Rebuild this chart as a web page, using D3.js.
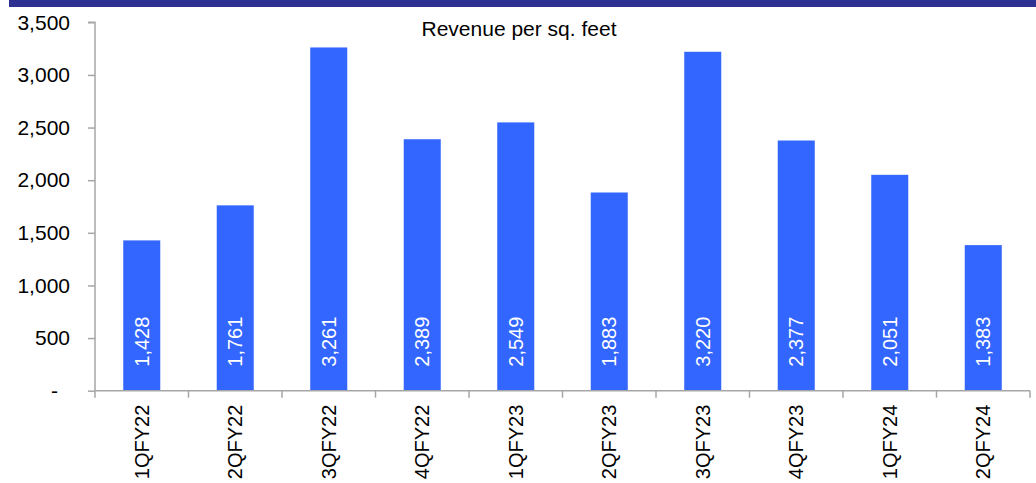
<!DOCTYPE html>
<html>
<head>
<meta charset="utf-8">
<script src="https://cdn.jsdelivr.net/npm/d3@7"></script>
<style>
  html, body { margin: 0; padding: 0; background: #fff; }
  svg { display: block; font-family: "Liberation Sans", Arial, Helvetica, sans-serif; }
</style>
</head>
<body>
<svg id="chart" width="1036" height="483"></svg>
<script>
const categories = ["1QFY22","2QFY22","3QFY22","4QFY22","1QFY23","2QFY23","3QFY23","4QFY23","1QFY24","2QFY24"];
const revenuePerSqFt = [1428, 1761, 3261, 2389, 2549, 1883, 3220, 2377, 2051, 1383];
const yTicks = [0, 500, 1000, 1500, 2000, 2500, 3000, 3500];
const chartTitle = "Revenue per sq. feet";

(function () {
const svg = d3.select("#chart");
const W = 1036, H = 483;
const mLeft = 95, mRight = 1030, mTop = 22.3, mBottom = 390.7;

// top header band (cropped)
svg.append("rect").attr("x", 9).attr("y", 0).attr("width", W - 9).attr("height", 7).attr("fill", "#2E3192");

const x = d3.scaleBand().domain(categories).range([mLeft, mRight]).padding(0);
const y = d3.scaleLinear().domain([0, 3500]).range([mBottom, mTop]);

const fmt = d3.format(",");
const axisColor = "#A6A6A6";

// bars
const barW = x.bandwidth() * 0.396;
svg.append("g").selectAll("rect").data(categories).join("rect")
  .attr("x", (d) => x(d) + x.bandwidth() / 2 - barW / 2)
  .attr("y", (d, i) => y(revenuePerSqFt[i]))
  .attr("width", barW)
  .attr("height", (d, i) => mBottom - y(revenuePerSqFt[i]))
  .attr("fill", "#3366FF");

// bar value labels
svg.append("g").selectAll("text").data(categories).join("text")
  .attr("transform", (d) => `translate(${x(d) + x.bandwidth() / 2},${mBottom - 24}) rotate(-90)`)
  .attr("dy", "0.35em")
  .attr("text-anchor", "start")
  .attr("font-size", 20)
  .attr("fill", "#fff")
  .text((d, i) => fmt(revenuePerSqFt[i]));

// y axis
const yAxis = d3.axisLeft(y).tickValues(yTicks).tickSize(7).tickPadding(18)
  .tickFormat((d) => d === 0 ? "-" : fmt(d));
const gy = svg.append("g").attr("transform", `translate(${mLeft},0)`).call(yAxis);
gy.select(".domain").attr("stroke", axisColor).attr("stroke-width", 1.5).attr("d", `M-7,${mTop}H0V${mBottom}`);
gy.selectAll(".tick line").attr("stroke", axisColor).attr("stroke-width", 1.5);
gy.selectAll(".tick text").attr("font-size", 21).attr("fill", "#000").attr("font-family", "Liberation Sans, Arial, sans-serif")
  .attr("x", (d) => d === 0 ? -37 : -25);

// x axis
const xAxis = d3.axisBottom(x).tickSize(0).tickFormat("");
const gx = svg.append("g").attr("transform", `translate(0,${mBottom})`).call(xAxis);
gx.select(".domain").attr("stroke", axisColor).attr("stroke-width", 1.5).attr("d", `M${mLeft},0H${mRight}`);
gx.selectAll(".tick").remove();
const bounds = categories.map((c) => x(c)).concat([mRight]);
gx.append("g").selectAll("line").data(bounds).join("line")
  .attr("x1", (d) => d).attr("x2", (d) => d).attr("y1", 0).attr("y2", 7)
  .attr("stroke", axisColor).attr("stroke-width", 1.5);

// category labels
svg.append("g").selectAll("text").data(categories).join("text")
  .attr("transform", (d) => `translate(${x(d) + x.bandwidth() / 2},${mBottom + 14}) rotate(-90)`)
  .attr("dy", "0.35em")
  .attr("text-anchor", "end")
  .attr("font-size", 20)
  .attr("fill", "#000")
  .text((d) => d);

// title
svg.append("text").attr("x", 519).attr("y", 36).attr("text-anchor", "middle")
  .attr("font-size", 21).attr("fill", "#000").text(chartTitle);
})();
</script>
</body>
</html>
